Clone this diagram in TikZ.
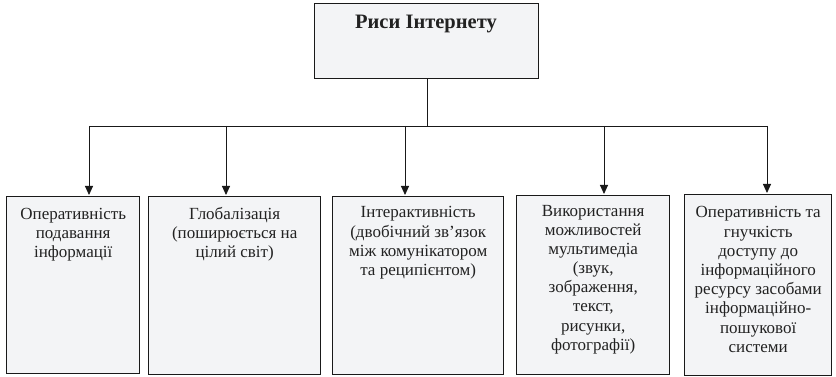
\documentclass[tikz,border=0pt]{standalone}
\usepackage{fontspec}
\setmainfont{Liberation Serif}
\usetikzlibrary{arrows.meta}
\definecolor{boxfill}{HTML}{F3F4F6}
\definecolor{txt}{HTML}{222222}
\newcommand{\boxtext}[1]{\begin{tabular}[t]{@{}c@{}}#1\end{tabular}}
\tikzset{
  x=1pt,y=1pt,
  box/.style={draw=black!90, line width=1.4pt, fill=boxfill, anchor=north west, inner sep=0pt},
  label/.style={anchor=base, text=txt, inner sep=0pt, font=\fontsize{17}{19.2}\selectfont},
  conn/.style={line width=0.9pt, draw=black!90},
  arr/.style={conn, -{Triangle[length=9pt,width=8pt]}, shorten >=1pt}
}
\begin{document}
\begin{tikzpicture}
\useasboundingbox (0,0) rectangle (836,-377);
% top box
\node[box, minimum width=224, minimum height=75] (top) at (314,-3) {};
\node[label, font=\fontsize{20.5}{22}\selectfont\bfseries] (tt) at (426,-28.5) {Риси Інтернету};
% bottom boxes
\node[box, minimum width=133, minimum height=177] (b1) at (6,-196) {};
\node[box, minimum width=172, minimum height=178] (b2) at (148,-196) {};
\node[box, minimum width=171, minimum height=178] (b3) at (332,-196) {};
\node[box, minimum width=153, minimum height=179] (b4) at (516,-195) {};
\node[box, minimum width=147, minimum height=181] (b5) at (684,-194) {};
% texts
\node[label] (t1) at (b1.north |- 0,-219) {\boxtext{Оперативність\\подавання\\інформації}};
\node[label] (t2) at (b2.north |- 0,-219) {\boxtext{Глобалізація\\(поширюється на\\цілий світ)}};
\node[label] (t3) at (b3.north |- 0,-218) {\boxtext{Інтерактивність\\(двобічний зв’язок\\між комунікатором\\та реципієнтом)}};
\node[label] (t4) at (b4.north |- 0,-216) {\boxtext{Використання\\можливостей\\мультимедіа\\(звук,\\зображення,\\текст,\\рисунки,\\фотографії)}};
\node[label] (t5) at (b5.north |- 0,-218) {\boxtext{Оперативність та\\гнучкість\\доступу до\\інформаційного\\ресурсу засобами\\інформаційно-\\пошукової\\системи}};
% connectors
\coordinate (jc) at (427,-126);
\coordinate (j1) at (89,-126);
\coordinate (j2) at (226,-126);
\coordinate (j3) at (405,-126);
\coordinate (j4) at (604,-126);
\coordinate (j5) at (767,-126);
\draw[conn] (jc |- top.south) -- (jc);
\draw[conn] (j1) -- (j5);
\draw[arr] (j1) -- (j1 |- b1.north);
\draw[arr] (j2) -- (j2 |- b2.north);
\draw[arr] (j3) -- (j3 |- b3.north);
\draw[arr] (j4) -- (j4 |- b4.north);
\draw[arr] (j5) -- (j5 |- b5.north);
\end{tikzpicture}
\end{document}
